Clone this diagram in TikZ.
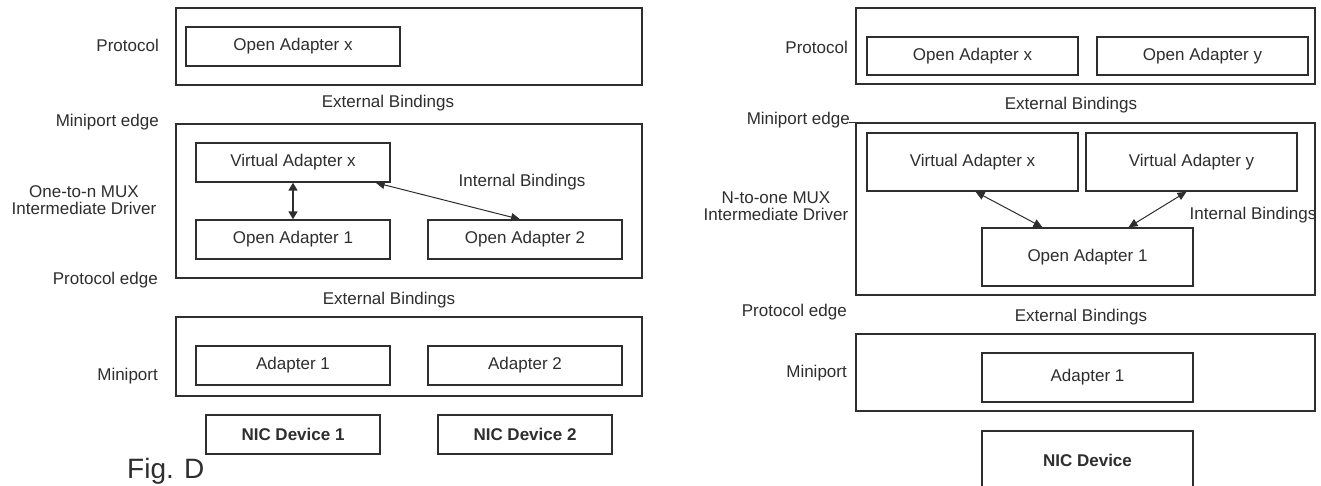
\documentclass[tikz,border=0pt]{standalone}
\usepackage{fontspec}
\setmainfont{Liberation Sans}
\usetikzlibrary{arrows.meta}
\definecolor{ink}{HTML}{2E2E2E}
\begin{document}
\begin{tikzpicture}[x=1pt,y=-1pt,
  every node/.style={font=\fontsize{17}{17}\selectfont, text=ink},
  box/.style={draw=ink, line width=1.4pt, inner sep=0pt, rectangle},
  lab/.style={inner sep=0pt, align=center},
  bnd/.style={inner sep=0pt},
  nic/.style={box, font=\fontsize{17}{17}\selectfont\bfseries},
  dbl/.style={ink, line width=1.6pt, {Triangle[length=8pt,width=9pt]}-{Triangle[length=8pt,width=9pt]}},
  dbln/.style={ink, line width=1pt, {Triangle[length=9pt,width=8pt]}-{Triangle[length=9pt,width=8pt]}}
]
\useasboundingbox (0,0) rectangle (1321,486);
\clip (0,0) rectangle (1321,486);
\fill[white] (0,0) rectangle (1321,486);

% ---------- left diagram ----------
\node[box, minimum width=466pt, minimum height=77pt] (P1) at (409,46.5) {};
\node[box, minimum width=214pt, minimum height=39pt] (OAx1) at (293,46.5) {Open Adapter x};
\node[box, minimum width=466pt, minimum height=154pt] (M1) at (409,201) {};
\node[box, minimum width=194pt, minimum height=39pt] (VAx1) at (293,162.5) {Virtual Adapter x};
\node[box, minimum width=194pt, minimum height=39pt] (OA1) at (293,239.5) {Open Adapter 1};
\node[box, minimum width=194pt, minimum height=39pt] (OA2) at (525,239.5) {Open Adapter 2};
\node[box, minimum width=466pt, minimum height=79pt] (Mp1) at (409,356.5) {};
\node[box, minimum width=194pt, minimum height=39pt] (Ad1) at (293,365.5) {Adapter 1};
\node[box, minimum width=194pt, minimum height=39pt] (Ad2) at (525,365.5) {Adapter 2};
\node[nic, minimum width=174pt, minimum height=39pt] (NIC1) at (293,434.5) {NIC Device 1};
\node[nic, minimum width=174pt, minimum height=39pt] (NIC2) at (525,434.5) {NIC Device 2};

\node[lab, anchor=east] (lProt1) at (159,45) {Protocol};
\node[lab, anchor=east] (lMe1) at (159,122) {Miniport edge};
\node[lab] (lMux1) at (84,200) {One-to-n MUX\\Intermediate Driver};
\node[lab, anchor=east] (lPe1) at (158,280) {Protocol edge};
\node[lab, anchor=east] (lMp1) at (158,376) {Miniport};
\node[bnd] (eb1) at (388,103) {External Bindings};
\node[bnd] (eb2) at (389,300) {External Bindings};
\node[bnd] (ib1) at (522,182) {Internal Bindings};
\node[lab, anchor=west, font=\fontsize{28}{28}\selectfont] (fig) at (127,471) {Fig. D};

\draw[dbl] (VAx1.south) -- (OA1.north);
\draw[dbln] ([xshift=-15pt]VAx1.south east) -- ([xshift=-5pt]OA2.north);

% ---------- right diagram ----------
\node[box, minimum width=459pt, minimum height=76pt] (P2) at (1085.5,46) {};
\node[box, minimum width=211pt, minimum height=38pt] (OAx2) at (972.5,56) {Open Adapter x};
\node[box, minimum width=211pt, minimum height=38pt] (OAy2) at (1202.5,56) {Open Adapter y};
\node[box, minimum width=459pt, minimum height=172pt] (M2) at (1085.5,209) {};
\node[box, minimum width=211pt, minimum height=58pt] (VAx2) at (972.5,162) {Virtual Adapter x};
\node[box, minimum width=211pt, minimum height=58pt] (VAy2) at (1191.5,162) {Virtual Adapter y};
\node[box, minimum width=211pt, minimum height=58pt] (OA1r) at (1087.5,257) {Open Adapter 1};
\node[box, minimum width=459pt, minimum height=77pt] (Mp2) at (1085.5,372.5) {};
\node[box, minimum width=211pt, minimum height=49pt] (Ad1r) at (1087.5,377.5) {Adapter 1};
\node[nic, minimum width=211pt, minimum height=58pt] (NICr) at (1087.5,460) {NIC Device};

\node[lab, anchor=east] (lProt2) at (848,47) {Protocol};
\node[lab, anchor=east] (lMe2) at (850,120) {Miniport edge};
\draw[ink, line width=1.4pt] (M2.north west) -- ++(-6,0) coordinate (tick);
\node[lab] (lMux2) at (776,206) {N-to-one MUX\\Intermediate Driver};
\node[lab, anchor=east] (lPe2) at (847,312) {Protocol edge};
\node[lab, anchor=east] (lMp2) at (847,373) {Miniport};
\node[bnd] (eb3) at (1071,105) {External Bindings};
\node[bnd] (eb4) at (1081,317) {External Bindings};
\node[bnd] (ib2) at (1253,215) {Internal Bindings};

\draw[dbln] ([xshift=3pt]VAx2.south) -- ([xshift=-45pt]OA1r.north);
\draw[dbln] ([xshift=-5pt]VAy2.south) -- ([xshift=41pt]OA1r.north);
\end{tikzpicture}
\end{document}
